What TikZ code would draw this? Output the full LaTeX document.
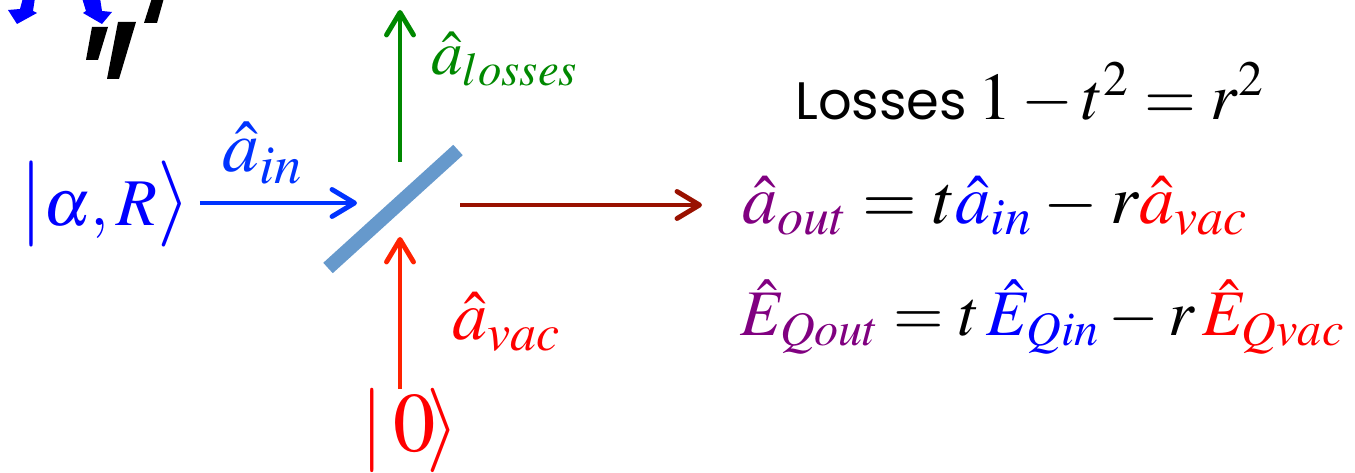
\documentclass[tikz,border=0pt]{standalone}
\usepackage{mathptmx}
\usepackage{fontspec}
\usepackage{xcolor}
\usepackage{tikz}
\usetikzlibrary{arrows.meta}
\newfontfamily\comicfont{Poppins}
\definecolor{bsblue}{HTML}{6699CC}
\definecolor{inblue}{HTML}{0033FF}
\definecolor{lossgreen}{HTML}{008800}
\definecolor{vacred}{HTML}{FF2200}
\definecolor{outred}{HTML}{991100}
\definecolor{outpurple}{HTML}{800080}

\begin{document}
\begin{tikzpicture}[x=0.2mm, y=-0.2mm,
    beam/.style={line width=2.8pt, -{Straight Barb[length=4.5mm, width=5.4mm, round]}},
    big/.style={font=\fontsize{38}{42}\selectfont, inner sep=0pt},
    huge0/.style={font=\fontsize{48}{52}\selectfont, inner sep=0pt}]
    \useasboundingbox (0,0) rectangle (1355,473);
    \clip (0,0) rectangle (1355,473);
    % pieces of the previous slide
    \fill[blue] (23,-2) -- (35,-2) -- (33,11) -- (37,13) -- (17,24) -- (8,10) -- (20,9) -- cycle;
    \fill[blue] (82,-2) -- (100,-2) -- (102,11) -- (112,12) -- (102,24) -- (83,13) -- (86,11) -- cycle;
    \fill[black] (92,27) -- (108,27) -- (98,60) -- (86,60) -- cycle;
    \fill[black] (118,22) -- (136,22) -- (119,79) -- (107,79) -- cycle;
    \fill[black] (152,-2) -- (164,-2) -- (157,23) -- (144,23) -- cycle;
    \node[anchor=base west, inner sep=0pt, text=red, font=\comicfont\fontsize{54}{60}\selectfont] (title) at (512,-10) {Influence of losses};

    % beam splitter
    \coordinate (bs) at (400,205);
    \draw[bsblue, line width=8pt] (328,268) -- (458,150);

    % input, vacuum and loss ports
    \node[big, text=blue, anchor=base] (inket) at (105,226)
        {\fontsize{49}{54}\selectfont$|$\fontsize{38}{42}\selectfont$\alpha,R$\fontsize{49}{54}\selectfont$\rangle$};
    \node[huge0, text=red, anchor=base] (vacket) at (410,452) {$|\mkern2mu0\mkern-2mu\rangle$};
    \coordinate (inend) at (357,203);
    \coordinate (vacend) at (400,237);
    \coordinate (lossstart) at (400,162);
    \coordinate (lossend) at (400,10);
    \coordinate (outstart) at (460,205);
    \draw[beam, inblue, shorten <=5pt] (inket.east |- inend) -- (inend);
    \draw[beam, vacred] (vacket.north -| vacend) -- (vacend);
    \draw[beam, lossgreen] (lossstart) -- (lossend);
    \node[big, text=inblue, anchor=base west, font=\fontsize{42}{46}\selectfont] (ain) at (222,172) {$\hat{a}_{in}$};
    \node[big, text=lossgreen, anchor=base west, font=\fontsize{36}{40}\selectfont] (aloss) at (431,75) {$\hat{a}_{losses}$};
    \node[big, text=red, anchor=base west, font=\fontsize{40}{44}\selectfont] (avac) at (452,340) {$\hat{a}_{vac}$};

    % output relations
    \node[anchor=base west, inner sep=0pt, font=\comicfont\fontsize{30}{34}\selectfont] (loss) at (795,120) {Losses};
    \node[big, anchor=base west] (losseq) at (978,120) {$1-t^{2}=r^{2}$};
    \node[big, anchor=base west, font=\fontsize{40}{44}\selectfont] (aout) at (742,224)
        {$\thickmuskip=4mu \medmuskip=3mu {\color{outpurple}\hat{a}_{out}} = t{\color{blue}\hat{a}_{in}} - r{\color{red}\hat{a}_{vac}}$};
    \node[big, anchor=base west, font=\fontsize{37}{42}\selectfont] (eout) at (740,336)
        {${\color{outpurple}\hat{E}_{Qout}} = t\,{\color{blue}\hat{E}_{Qin}} - r\,{\color{red}\hat{E}_{Qvac}}$};
    \draw[beam, outred, shorten >=8mm] (outstart) -- (outstart -| aout.west);
\end{tikzpicture}
\end{document}
